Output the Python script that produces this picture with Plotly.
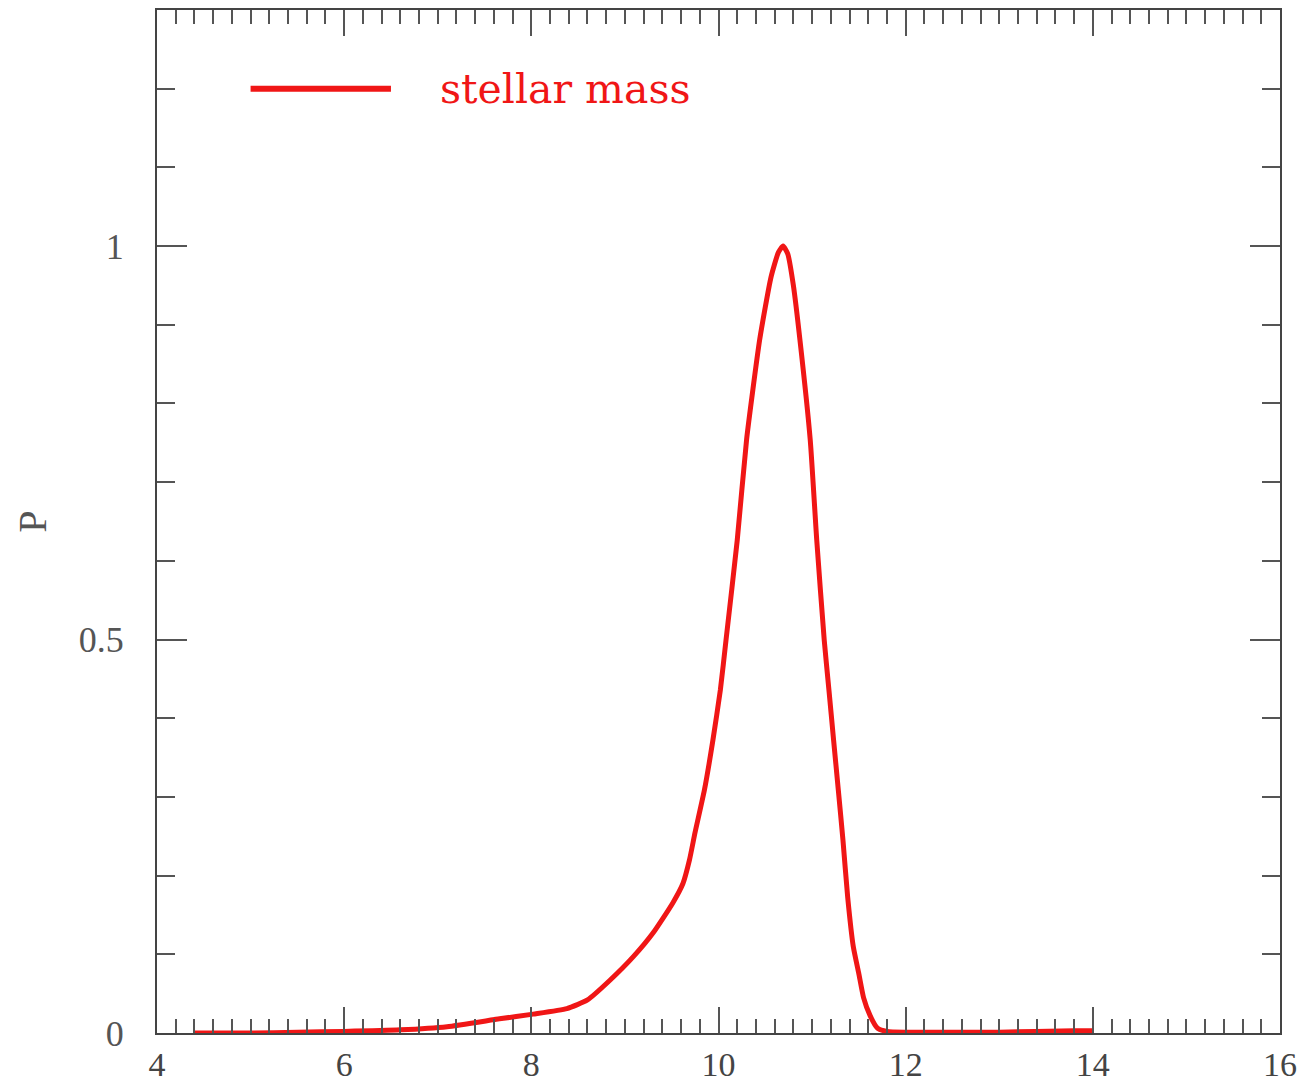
import plotly.graph_objects as go

# data
mass = [4.4, 5.0, 5.5, 6.0, 6.6, 7.1, 7.66, 8.02, 8.38, 8.6, 8.84, 9.09, 9.30,
        9.51, 9.62, 9.69, 9.75, 9.85, 9.94, 10.02, 10.08, 10.20, 10.30, 10.44, 10.56,
        10.64, 10.69, 10.74, 10.80, 10.87, 10.98, 11.05, 11.13, 11.18, 11.23,
        11.28, 11.33, 11.38, 11.44, 11.50, 11.55, 11.62, 11.70, 11.8, 12.0,
        13.0, 13.8, 14.0]
prob = [0.0, 0.0, 0.001, 0.002, 0.004, 0.008, 0.018, 0.024, 0.031, 0.042,
        0.067, 0.097, 0.127, 0.165, 0.19, 0.22, 0.255, 0.309, 0.372, 0.436, 0.499,
        0.626, 0.754, 0.881, 0.96, 0.992, 1.0, 0.99, 0.95, 0.881, 0.754, 0.626,
        0.499, 0.436, 0.372, 0.309, 0.245, 0.173, 0.11, 0.075, 0.045, 0.022,
        0.006, 0.002, 0.001, 0.001, 0.003, 0.003]

legend_label = "stellar mass"
legend_line_x = [5.0, 6.5]
legend_y = 1.2
legend_text_x = 7.0

x_ticks = [4, 6, 8, 10, 12, 14, 16]
y_ticks = [0, 0.5, 1]
y_tick_text = ["0", "0.5", "1"]

RED = "rgb(240,22,22)"
AX = "#555555"

fig = go.Figure()
fig.add_trace(go.Scatter(x=mass, y=prob, mode="lines",
                         line=dict(color=RED, width=5, shape="spline", smoothing=0.5),
                         showlegend=False, hoverinfo="skip"))
# legend sample line
fig.add_trace(go.Scatter(x=legend_line_x, y=[legend_y, legend_y], mode="lines",
                         line=dict(color=RED, width=6), showlegend=False,
                         hoverinfo="skip"))
fig.add_annotation(x=legend_text_x, y=legend_y, text=legend_label, showarrow=False,
                   xanchor="left", yanchor="middle",
                   font=dict(family="DejaVu Serif", size=41, color=RED))

fig.update_layout(
    width=1309, height=1086,
    margin=dict(l=157, r=29, t=10, b=53),
    paper_bgcolor="white", plot_bgcolor="white",
    font=dict(family="Liberation Serif", size=36, color=AX),
)
fig.update_xaxes(
    range=[4, 16], tickvals=x_ticks, ticktext=[str(v) for v in x_ticks],
    showgrid=False, zeroline=False, automargin=False,
    showline=True, linecolor="#444444", linewidth=2, mirror="ticks",
    ticks="inside", ticklen=26, tickwidth=2, tickcolor=AX,
    ticklabelstandoff=0,
    tickfont=dict(family="Liberation Serif", size=34, color="#444444"),
    minor=dict(dtick=0.2, tick0=4, ticks="inside", ticklen=14, tickwidth=2,
               tickcolor=AX, showgrid=False),
)
fig.update_yaxes(
    range=[0, 1.3], tickvals=y_ticks, ticktext=y_tick_text,
    showgrid=False, zeroline=False, automargin=False,
    showline=True, linecolor="#444444", linewidth=2, mirror="ticks",
    ticks="inside", ticklen=30, tickwidth=2, tickcolor=AX,
    ticklabelstandoff=24,
    tickfont=dict(family="Liberation Serif", size=36, color="#555555"),
    minor=dict(dtick=0.1, tick0=0, ticks="inside", ticklen=18, tickwidth=2,
               tickcolor=AX, showgrid=False),
    title=dict(text="P", font=dict(family="Liberation Serif", size=40, color=AX),
               standoff=20),
)

fig.write_html("out.html")
